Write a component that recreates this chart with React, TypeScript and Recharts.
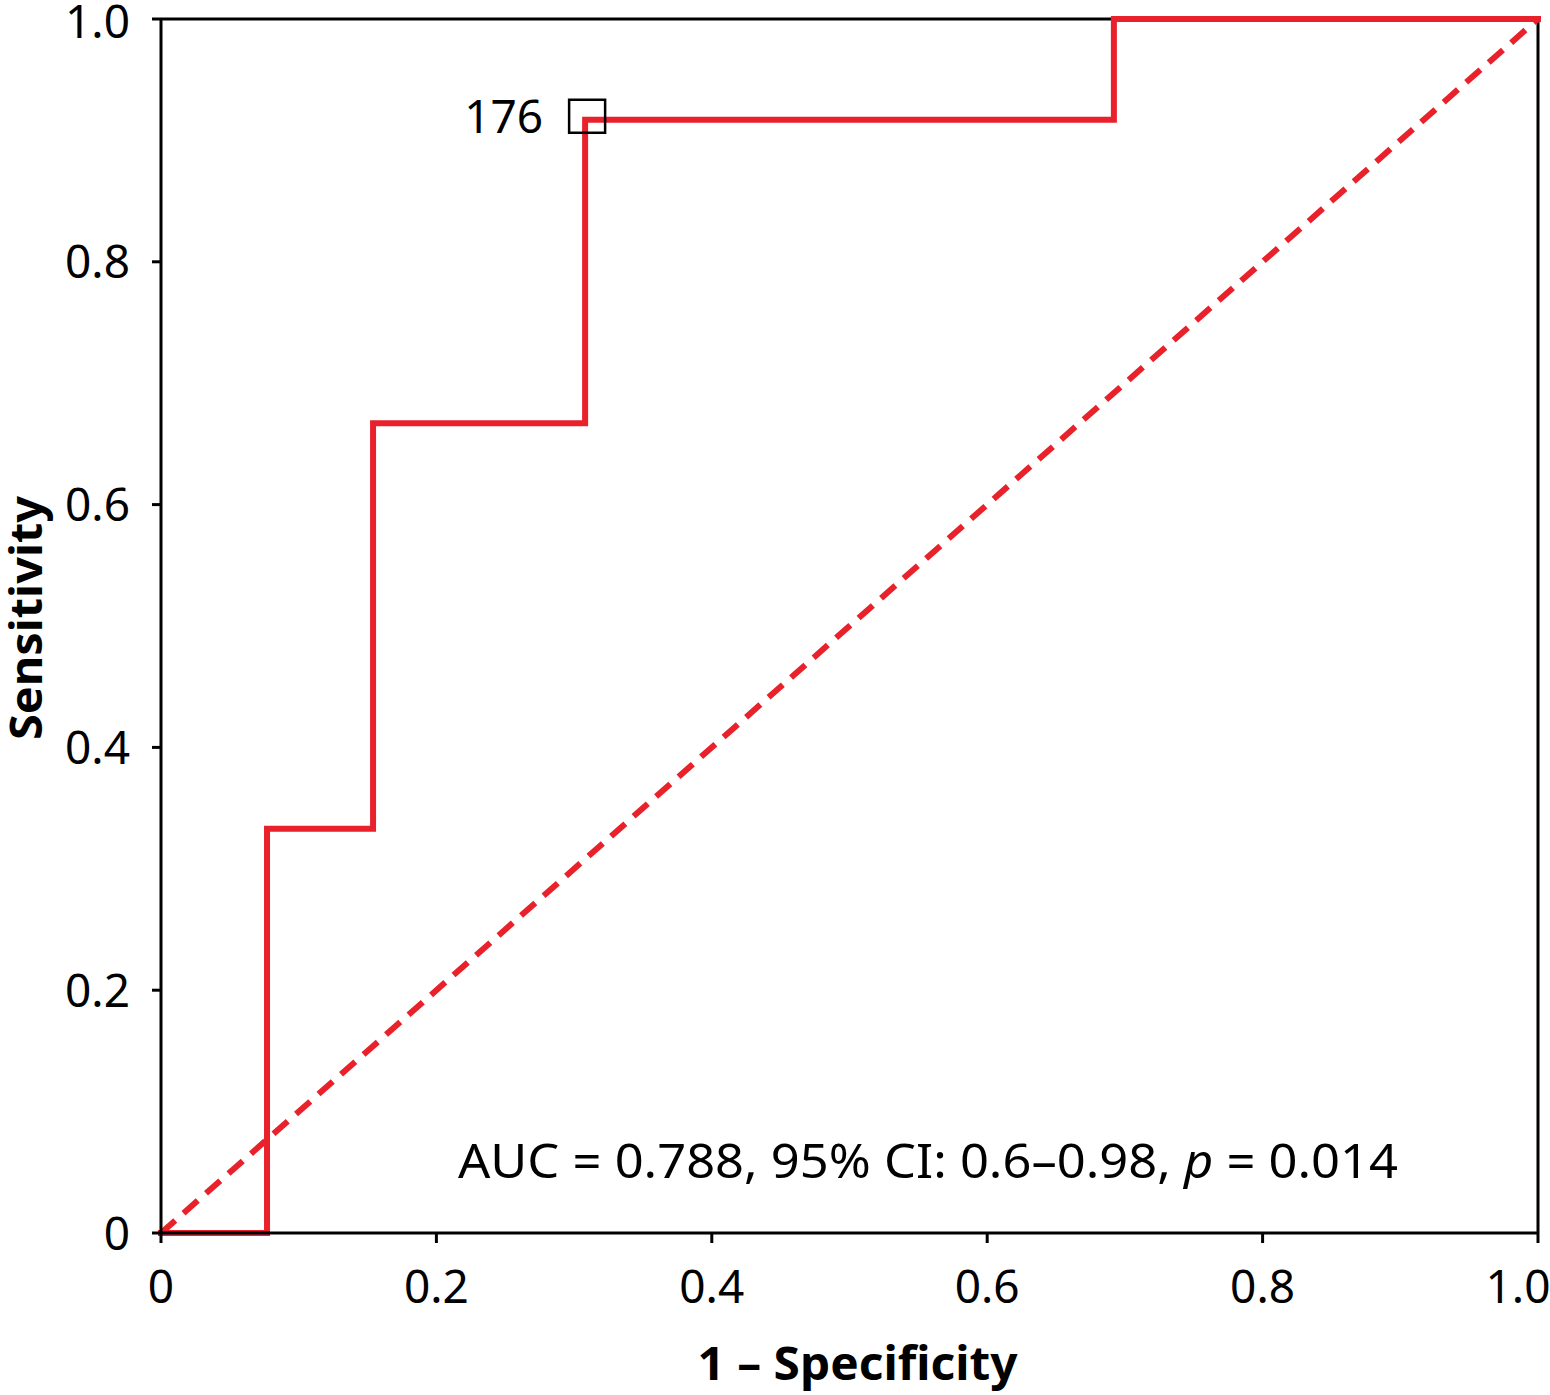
import React from 'react';
import { ComposedChart, Line, XAxis, YAxis, ReferenceLine, ReferenceDot } from 'recharts';

// ROC curve points
const fpr = [0, 0.077, 0.077, 0.154, 0.154, 0.308, 0.308, 0.692, 0.692, 1.0];
const tpr = [0, 0, 0.333, 0.333, 0.667, 0.667, 0.917, 0.917, 1.0, 1.0];
const diagX = [0, 1];
const diagY = [0, 1];
const ticks = [0, 0.2, 0.4, 0.6, 0.8, 1.0];
const cutoffX = 0.308;
const cutoffY = 0.917;
const cutoffLabel = '176';
const aucParts = ['AUC = 0.788, 95% CI: 0.6\u20130.98, ', 'p', ' = 0.014'];

const rocData = fpr.map((x, i) => ({ x, y: tpr[i] }));
const diagData = diagX.map((x, i) => ({ x, y: diagY[i] }));

const RED = '#e8212b';
const FONT = "'Noto Sans', sans-serif";

const fmt = (v: number) => (v === 0 ? '0' : v.toFixed(1));

const XTick = (props: any) => {
  const { x, y, payload } = props;
  const dx = payload.value === 1 ? -20 : 0;
  return (
    <text x={x + dx} y={y} dy="0.71em" textAnchor="middle" fill="#000" fontSize={46} fontFamily={FONT}>
      {fmt(payload.value)}
    </text>
  );
};

const YTick = (props: any) => {
  const { x, y, payload } = props;
  const dy = payload.value === 1 ? 2 : 0;
  return (
    <text x={x} y={y + dy} dy="0.36em" textAnchor="end" fill="#000" fontSize={46} fontFamily={FONT}>
      {fmt(payload.value)}
    </text>
  );
};

const YLabel = (props: any) => {
  const { viewBox } = props;
  const cx = viewBox.x + 24;
  const cy = viewBox.y + viewBox.height / 2 - 8;
  return (
    <text
      x={cx}
      y={cy}
      transform={`rotate(-90, ${cx}, ${cy})`}
      textAnchor="middle"
      dominantBaseline="central"
      fontSize={45}
      fontWeight={700}
      fontFamily={FONT}
      fill="#000"
      textLength={244}
      lengthAdjust="spacingAndGlyphs"
    >
      Sensitivity
    </text>
  );
};

const XLabel = (props: any) => {
  const { viewBox } = props;
  const cx = viewBox.x + viewBox.width / 2 + 8;
  return (
    <text
      x={cx}
      y={1380}
      textAnchor="middle"
      fontSize={46}
      fontWeight={700}
      fontFamily={FONT}
      fill="#000"
      textLength={320}
      lengthAdjust="spacingAndGlyphs"
    >
      1 – Specificity
    </text>
  );
};

const CutoffMarker = (props: any) => {
  const { cx, cy } = props;
  return (
    <g>
      <rect x={cx - 16} y={cy - 20} width={36} height={33} fill="none" stroke="#000" strokeWidth={2.5} />
      <text x={cx - 42} y={cy + 13} textAnchor="end" fontSize={46} fontFamily={FONT} fill="#000">
        {cutoffLabel}
      </text>
    </g>
  );
};

const AucLabel = (props: any) => {
  const { cx, cy } = props;
  return (
    <text
      x={cx}
      y={cy}
      textAnchor="middle"
      fontSize={48}
      fontFamily={FONT}
      fill="#000"
      textLength={940}
      lengthAdjust="spacingAndGlyphs"
    >
      {aucParts[0]}
      <tspan fontStyle="italic">{aucParts[1]}</tspan>
      {aucParts[2]}
    </text>
  );
};

export default function App() {
  return (
    <div style={{ position: 'absolute', left: 0, top: 0, background: '#fff' }}>
      <ComposedChart width={1550} height={1395} margin={{ top: 19, right: 12, bottom: 0, left: 0 }}>
        <XAxis
          type="number"
          dataKey="x"
          domain={[0, 1]}
          ticks={ticks}
          height={162}
          axisLine={{ stroke: '#000', strokeWidth: 3 }}
          tickLine={{ stroke: '#000', strokeWidth: 3 }}
          tickSize={10}
          tickMargin={27}
          tick={<XTick />}
          label={{ content: <XLabel /> }}
        />
        <YAxis
          type="number"
          dataKey="y"
          domain={[0, 1]}
          ticks={ticks}
          width={161}
          axisLine={{ stroke: '#000', strokeWidth: 3 }}
          tickLine={{ stroke: '#000', strokeWidth: 3 }}
          tickSize={9}
          tickMargin={22}
          tick={<YTick />}
          label={{ content: <YLabel /> }}
        />
        <ReferenceLine y={1} stroke="#000" strokeWidth={3} />
        <ReferenceLine x={1} stroke="#000" strokeWidth={3} />
        <Line
          data={diagData}
          dataKey="y"
          type="linear"
          stroke={RED}
          strokeWidth={6}
          strokeDasharray="19 11"
          dot={false}
          isAnimationActive={false}
        />
        <Line
          data={rocData}
          dataKey="y"
          type="linear"
          stroke={RED}
          strokeWidth={6}
          strokeLinejoin="miter"
          strokeLinecap="square"
          dot={false}
          isAnimationActive={false}
        />
        <ReferenceDot x={cutoffX} y={cutoffY} shape={<CutoffMarker />} />
        <ReferenceDot x={0.557} y={0.045} shape={<AucLabel />} />
      </ComposedChart>
    </div>
  );
}
